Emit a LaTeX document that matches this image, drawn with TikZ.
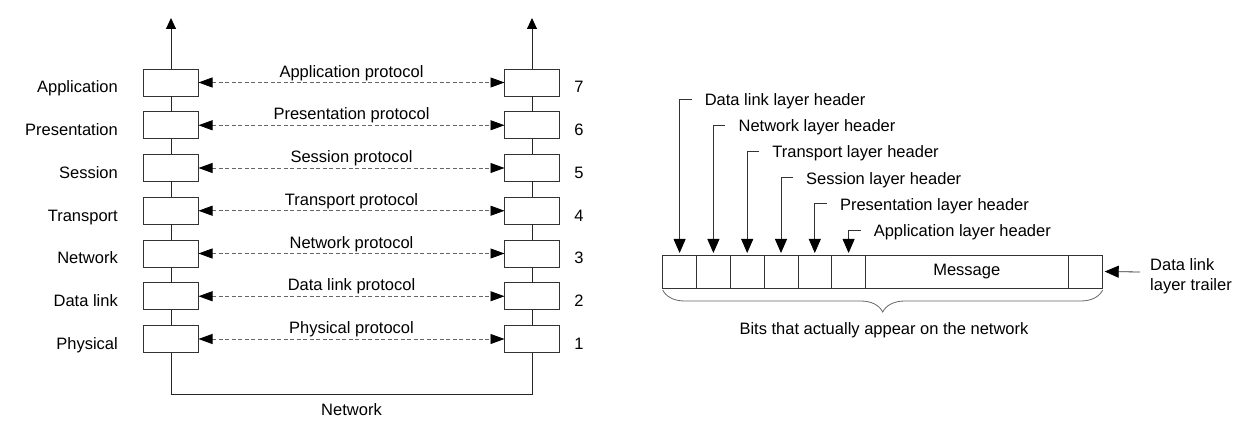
\documentclass[tikz,border=0pt]{standalone}
\usepackage{fontspec}
\setmainfont{Liberation Sans}
\usetikzlibrary{arrows.meta,positioning,calc,decorations.pathreplacing}

\tikzset{
    layerbox/.style = {draw=black!80, line width=0.8pt, minimum width=55pt, minimum height=27pt, inner sep=0pt, outer sep=0pt},
    cellbox/.style  = {draw=black!80, line width=0.8pt, minimum width=33.8pt, minimum height=33pt, inner sep=0pt, outer sep=0pt},
    stack/.style    = {draw=black!85, line width=0.9pt},
    uparrow/.style  = {stack, -{Triangle[length=11pt,width=10pt,color=black]}},
    peerarrow/.style = {draw=black!60, line width=0.8pt, dash pattern=on 4pt off 2.5pt, {Triangle[length=14pt,width=10pt,color=black]}-{Triangle[length=14pt,width=10pt,color=black]}},
    headarrow/.style = {draw=black!80, line width=0.8pt, -{Triangle[length=14pt,width=12pt,color=black]}, shorten >=2pt},
    lbl/.style      = {inner sep=0pt, font=\fontsize{16.5}{20}\selectfont}
}

\begin{document}
\begin{tikzpicture}
        [   x = 1pt
        ,   y = -1pt
        ]
        \useasboundingbox (0,0) rectangle (1256,422);

        % the two protocol stacks
        \foreach \n/\layer in {7/Application,6/Presentation,5/Session,4/Transport,3/Network,2/Data link,1/Physical}
        {
            \pgfmathsetmacro\yy{82.5+(7-\n)*42.75}
            \node[layerbox] (l\n) at (171,\yy) {};
            \node[layerbox] (r\n) at (532,\yy) {};
            \node[lbl, anchor=base east] (name\n) at (118,\yy+10.5) {\layer};
            \node[lbl, anchor=base] (num\n) at (579,\yy+10.5) {\n};
            \draw[peerarrow] (l\n.east) -- (r\n.west)
                node[lbl, midway, above, inner sep=1.5pt] (proto\n) {\layer\ protocol};
        }
        \foreach \n/\m in {7/6,6/5,5/4,4/3,3/2,2/1}
        {
            \draw[stack] (l\n.south) -- (l\m.north);
            \draw[stack] (r\n.south) -- (r\m.north);
        }
        \coordinate (ltop) at (171,18);
        \coordinate (rtop) at (532,18);
        \draw[uparrow] (l7.north) -- (ltop);
        \draw[uparrow] (r7.north) -- (rtop);
        \coordinate (netl) at (171,394);
        \draw[stack] (l1.south) -- (netl) -| (r1.south);
        \node[lbl, anchor=base] (net) at (351.5,415) {Network};

        % the bits on the wire
        \node[cellbox] (c1) at (679.6,271.5) {};
        \foreach \i [remember=\i as \j (initially 1)] in {2,...,6}
        {
            \node[cellbox, right=0pt of c\j] (c\i) {};
        }
        \node[cellbox, minimum width=202.5pt, right=0pt of c6, lbl] (msg) {Message};
        \node[cellbox, minimum width=34.7pt, right=0pt of msg] (trl) {};

        \foreach \i/\hdr in {1/Data link,2/Network,3/Transport,4/Session,5/Presentation,6/Application}
        {
            \pgfmathsetmacro\yy{99+(\i-1)*26.2}
            \coordinate (k\i) at (c\i.north |- 0,\yy);
            \coordinate (e\i) at ($(k\i)+(12,0)$);
            \draw[headarrow] (e\i) -- (k\i) -- (c\i.north);
            \node[lbl, anchor=base west] (hdr\i) at ($(e\i)+(13,6.5)$) {\hdr\ layer header};
        }

        \coordinate (tail) at (1140,272);
        \draw[headarrow] (tail) -- (trl.east);
        \node[lbl, anchor=west, align=left] (trailer) at (1150,276.5) {Data link\\layer trailer};

        \draw[draw=black!60, line width=0.8pt, decorate, decoration={brace, amplitude=22pt}]
            ([yshift=-2pt]trl.south east) -- ([yshift=-2pt]c1.south west);
        \node[lbl, anchor=base] (bits) at (884,334) {Bits that actually appear on the network};
\end{tikzpicture}
\end{document}
